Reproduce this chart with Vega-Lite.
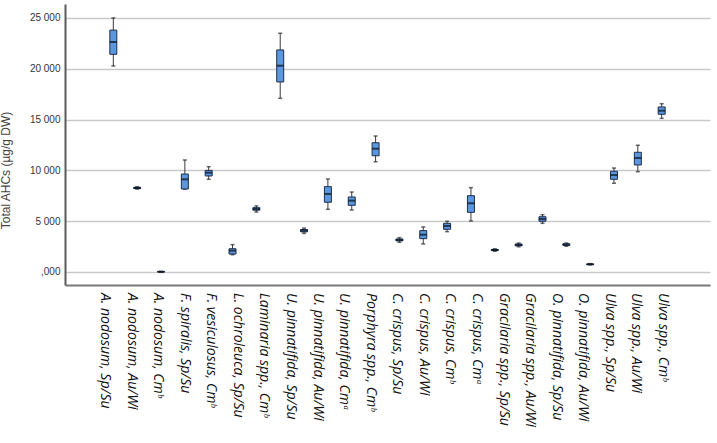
{
  "$schema": "https://vega.github.io/schema/vega-lite/v6.json",
  "autosize": {"type": "none"},
  "padding": {"left": 65, "top": 4, "right": 7, "bottom": 158},
  "width": 645,
  "height": 281,
  "background": "white",
  "config": {"view": {"stroke": null}},
  "datasets": {
    "boxes": [
      {"i": 1, "min": 20270, "q1": 21420, "med": 22630, "q3": 23800, "max": 25000},
      {"i": 2, "min": 8150, "q1": 8210, "med": 8270, "q3": 8330, "max": 8390},
      {"i": 3, "min": 0, "q1": 10, "med": 20, "q3": 40, "max": 60},
      {"i": 4, "min": 8150, "q1": 8170, "med": 9120, "q3": 9640, "max": 11020},
      {"i": 5, "min": 9120, "q1": 9450, "med": 9770, "q3": 10000, "max": 10360},
      {"i": 6, "min": 1700, "q1": 1770, "med": 2100, "q3": 2290, "max": 2690},
      {"i": 7, "min": 5900, "q1": 6080, "med": 6200, "q3": 6330, "max": 6500},
      {"i": 8, "min": 17090, "q1": 18700, "med": 20300, "q3": 21850, "max": 23490},
      {"i": 9, "min": 3800, "q1": 3950, "med": 4070, "q3": 4180, "max": 4320},
      {"i": 10, "min": 6170, "q1": 6860, "med": 7680, "q3": 8400, "max": 9150},
      {"i": 11, "min": 6100, "q1": 6560, "med": 7020, "q3": 7380, "max": 7870},
      {"i": 12, "min": 10850, "q1": 11440, "med": 12130, "q3": 12720, "max": 13380},
      {"i": 13, "min": 2920, "q1": 3060, "med": 3150, "q3": 3250, "max": 3380},
      {"i": 14, "min": 2760, "q1": 3280, "med": 3670, "q3": 4070, "max": 4430},
      {"i": 15, "min": 3970, "q1": 4200, "med": 4530, "q3": 4790, "max": 4990},
      {"i": 16, "min": 5020, "q1": 5870, "med": 6760, "q3": 7510, "max": 8300},
      {"i": 17, "min": 2040, "q1": 2110, "med": 2160, "q3": 2220, "max": 2280},
      {"i": 18, "min": 2480, "q1": 2580, "med": 2660, "q3": 2750, "max": 2850},
      {"i": 19, "min": 4790, "q1": 4990, "med": 5220, "q3": 5440, "max": 5640},
      {"i": 20, "min": 2530, "q1": 2620, "med": 2690, "q3": 2770, "max": 2850},
      {"i": 21, "min": 700, "q1": 730, "med": 760, "q3": 790, "max": 820},
      {"i": 22, "min": 8730, "q1": 9120, "med": 9540, "q3": 9910, "max": 10230},
      {"i": 23, "min": 9870, "q1": 10530, "med": 11220, "q3": 11780, "max": 12470},
      {"i": 24, "min": 15120, "q1": 15520, "med": 15870, "q3": 16240, "max": 16560}
    ],
    "labels": [
      {"k": 1, "label": "A. nodosum, Sp/Su"},
      {"k": 2, "label": "A. nodosum, Au/Wi"},
      {"k": 3, "label": "A. nodosum, Cmᵇ"},
      {"k": 4, "label": "F. spiralis, Sp/Su"},
      {"k": 5, "label": "F. vesiculosus, Cmᵇ"},
      {"k": 6, "label": "L. ochroleuca, Sp/Su"},
      {"k": 7, "label": "Laminaria spp., Cmᵇ"},
      {"k": 8, "label": "U. pinnatifida, Sp/Su"},
      {"k": 9, "label": "U. pinnatifida, Au/Wi"},
      {"k": 10, "label": "U. pinnatifida, Cmᵃ"},
      {"k": 11, "label": "Porphyra spp., Cmᵇ"},
      {"k": 12, "label": "C. crispus, Sp/Su"},
      {"k": 13, "label": "C. crispus, Au/Wi"},
      {"k": 14, "label": "C. crispus, Cmᵇ"},
      {"k": 15, "label": "C. crispus, Cmᵃ"},
      {"k": 16, "label": "Gracilaria spp., Sp/Su"},
      {"k": 17, "label": "Gracilaria spp., Au/Wi"},
      {"k": 18, "label": "O. pinnatifida, Sp/Su"},
      {"k": 19, "label": "O. pinnatifida, Au/Wi"},
      {"k": 20, "label": "Ulva spp., Sp/Su"},
      {"k": 21, "label": "Ulva spp., Au/Wi"},
      {"k": 22, "label": "Ulva spp., Cmᵇ"}
    ]
  },
  "layer": [
    {
      "data": {"name": "boxes"},
      "encoding": {
        "x": {"field": "i", "type": "quantitative",
              "scale": {"domain": [-0.817, 25.817], "nice": false, "zero": false},
              "axis": {"labels": false, "ticks": false, "grid": false, "title": null,
                       "domainColor": "#7a7a7a", "domainWidth": 2}}
      },
      "layer": [
        {
          "mark": {"type": "rule", "color": "#3a3a3a", "strokeWidth": 1},
          "encoding": {
            "y": {"field": "min", "type": "quantitative",
                  "scale": {"domain": [-1280, 26370], "nice": false, "zero": false},
                  "axis": {
                    "values": [0, 5000, 10000, 15000, 20000, 25000],
                    "labelExpr": "datum.value == 0 ? ',000' : replace(format(datum.value, ','), ',', ' ')",
                    "title": "Total AHCs (µg/g DW)",
                    "titleFont": "Liberation Sans", "titleFontSize": 12, "titleFontWeight": "normal",
                    "titleColor": "#444444", "titleX": -53, "titleY": 166,
                    "labelFont": "Liberation Sans", "labelFontSize": 10, "labelColor": "#333333",
                    "ticks": false, "labelPadding": 5,
                    "domainColor": "#5a5a5a", "domainWidth": 2,
                    "grid": true, "gridColor": "#c9c9c9", "gridWidth": 1.5
                  }},
            "y2": {"field": "max"}
          }
        },
        {
          "mark": {"type": "tick", "orient": "horizontal", "color": "#2a2a2a", "size": 4, "thickness": 1.5},
          "encoding": {"y": {"field": "min", "type": "quantitative"}}
        },
        {
          "mark": {"type": "tick", "orient": "horizontal", "color": "#2a2a2a", "size": 4, "thickness": 1.5},
          "encoding": {"y": {"field": "max", "type": "quantitative"}}
        },
        {
          "mark": {"type": "bar", "width": 7, "fill": "#5b97dc", "stroke": "#1e2f4d", "strokeWidth": 1},
          "encoding": {
            "y": {"field": "q1", "type": "quantitative"},
            "y2": {"field": "q3"}
          }
        },
        {
          "mark": {"type": "tick", "orient": "horizontal", "color": "#0a0f1a", "size": 7, "thickness": 2},
          "encoding": {"y": {"field": "med", "type": "quantitative"}}
        }
      ]
    },
    {
      "data": {"name": "labels"},
      "mark": {"type": "text", "angle": 90, "align": "left", "baseline": "middle", "dx": 8,
               "font": "Open Sans", "fontStyle": "italic", "fontSize": 14, "color": "#111111"},
      "encoding": {
        "x": {"field": "k", "type": "quantitative",
              "scale": {"domain": [-0.5055, 23.769], "nice": false, "zero": false},
              "axis": null},
        "y": {"datum": -1280, "type": "quantitative"},
        "text": {"field": "label"}
      }
    }
  ],
  "resolve": {"scale": {"x": "independent"}, "axis": {"x": "independent"}}
}
